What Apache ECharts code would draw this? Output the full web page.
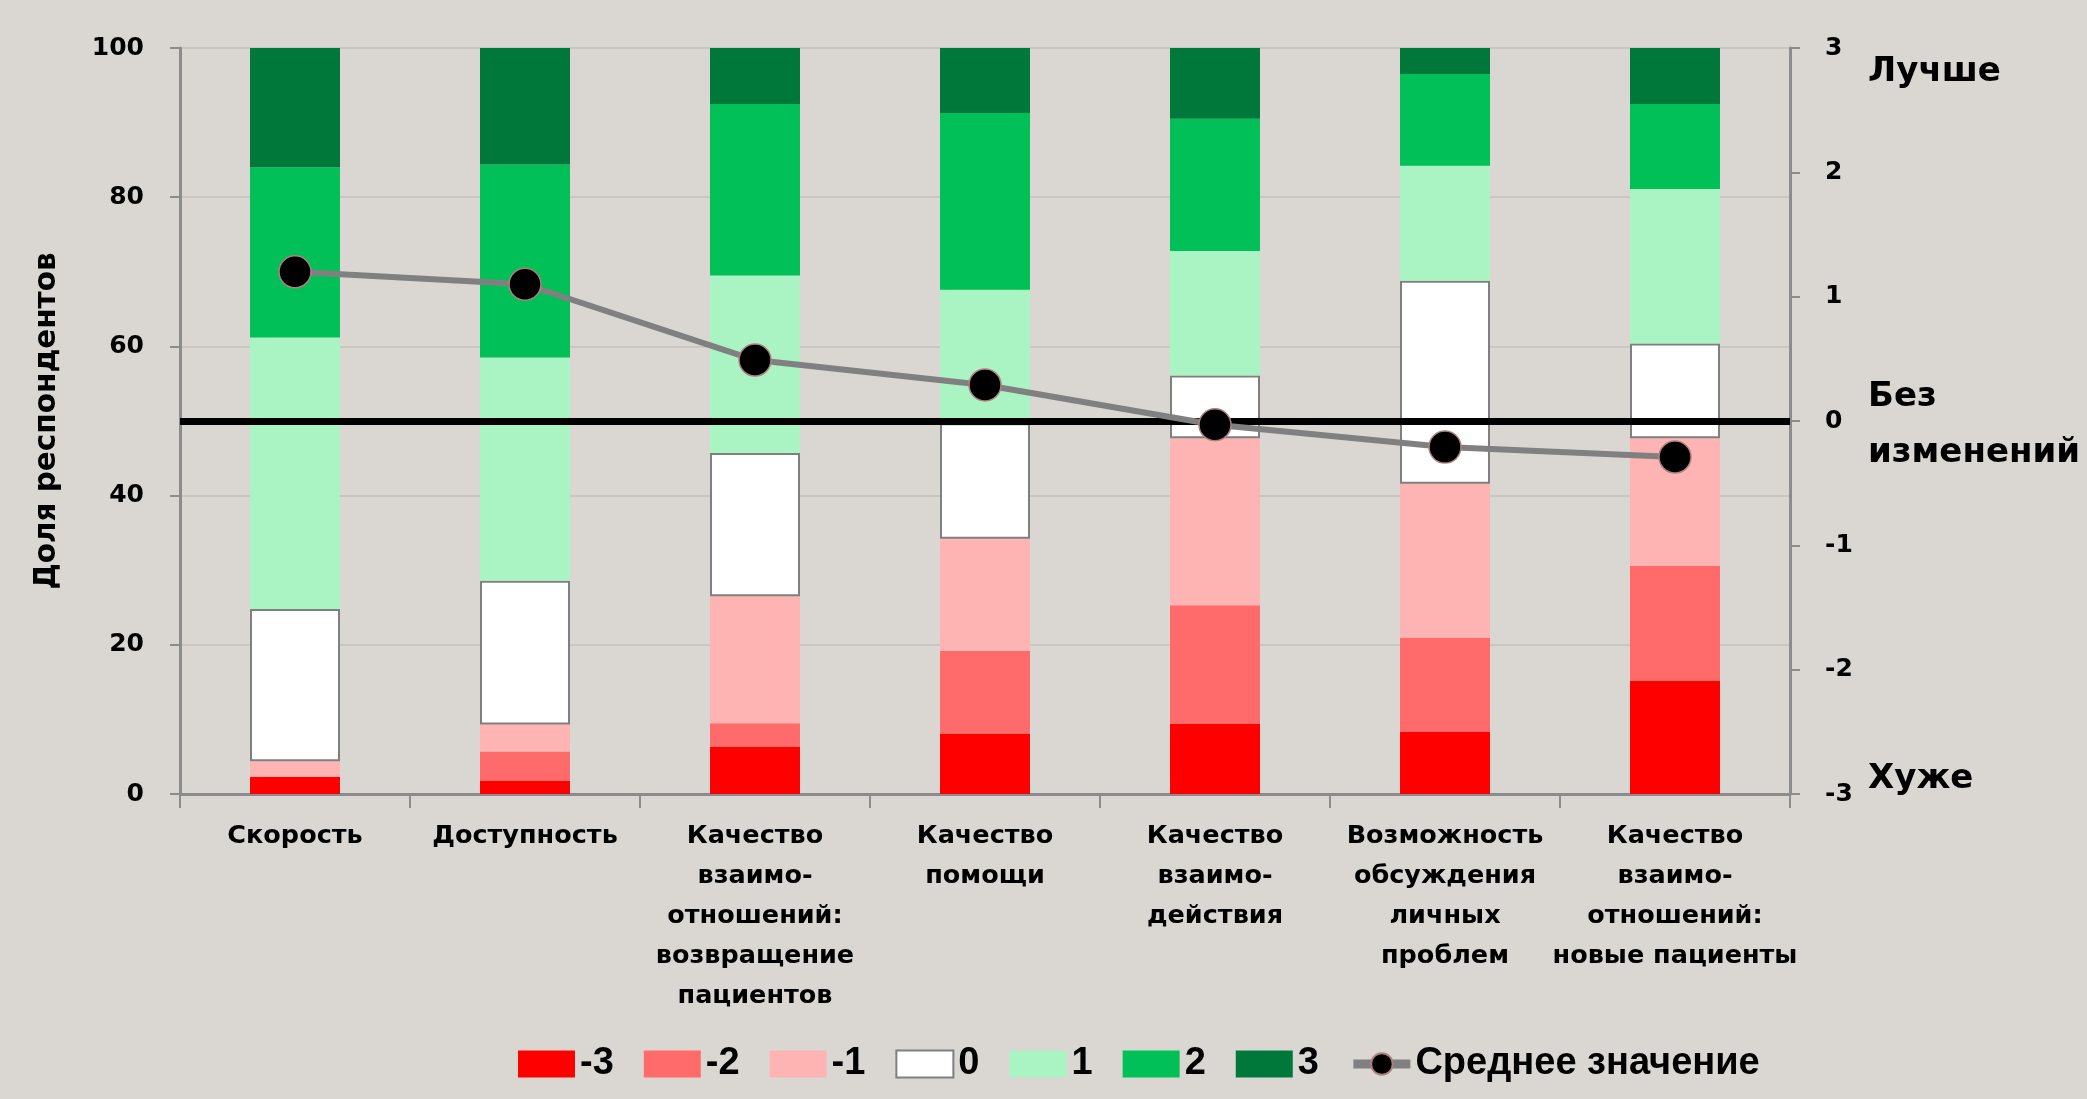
<!DOCTYPE html>
<html>
<head>
<meta charset="utf-8">
<script src="https://cdn.jsdelivr.net/npm/echarts@6/dist/echarts.min.js"></script>
<style>
html,body{margin:0;padding:0;background:#dad7d2;}
#c{width:2087px;height:1099px;}
</style>
</head>
<body>
<div id="c"></div>
<script>
const categories = [
  "Скорость",
  "Доступность",
  "Качество\nвзаимо-\nотношений:\nвозвращение\nпациентов",
  "Качество\nпомощи",
  "Качество\nвзаимо-\nдействия",
  "Возможность\nобсуждения\nличных\nпроблем",
  "Качество\nвзаимо-\nотношений:\nновые пациенты"
];
const neg3 = [2.3, 1.8, 6.3, 8.1, 9.4, 8.3, 15.2];
const neg2 = [0, 3.9, 3.2, 11.1, 15.9, 12.6, 15.4];
const neg1 = [2.1, 3.6, 17.0, 15.0, 22.4, 20.7, 17.1];
const zero = [20.4, 19.3, 19.2, 15.5, 8.4, 27.2, 12.7];
const pos1 = [36.4, 29.9, 23.8, 17.9, 16.7, 15.4, 20.7];
const pos2 = [22.8, 25.9, 23.0, 23.7, 17.7, 12.3, 11.4];
const pos3 = [16.0, 15.6, 7.5, 8.7, 9.5, 3.5, 7.5];
const meanValues = [1.2, 1.1, 0.49, 0.29, -0.03, -0.21, -0.29];
const seriesNames = ["-3", "-2", "-1", "0", "1", "2", "3"];
const meanName = "Среднее значение";
const leftTicks = {min: 0, max: 100, interval: 20};
const rightTicks = {min: -3, max: 3, interval: 1};
const neutralLevel = 50;
const sideLabels = ["Лучше", "Без\nизменений", "Хуже"];

const segData = [neg3, neg2, neg1, zero, pos1, pos2, pos3];
const segColors = ["#ff0000", "#ff6b6b", "#ffb4b4", "#ffffff", "#aaf4c4", "#00c057", "#00783a"];
const axisFont = "DejaVu Sans";

const chart = echarts.init(document.getElementById('c'));
const series = segData.map((d, i) => {
  const s = {
    name: seriesNames[i], type: 'bar', stack: 'total', barWidth: 90,
    data: d,
    itemStyle: {color: segColors[i], borderColor: i === 3 ? '#7f7f7f' : segColors[i], borderWidth: i === 3 ? 2 : 0},
    emphasis: {disabled: true}
  };
  if (i === 0) {
    s.markLine = {
      silent: true, symbol: ['none', 'none'], label: {show: false},
      lineStyle: {color: '#000', width: 7, type: 'solid'},
      data: [{yAxis: neutralLevel}]
    };
  }
  return s;
});
series.push({
  name: meanName, type: 'line', yAxisIndex: 1, z: 10,
  data: meanValues,
  symbol: 'circle', symbolSize: 32,
  lineStyle: {color: '#808080', width: 6},
  itemStyle: {color: '#000', borderColor: '#b08080', borderWidth: 1.5},
  emphasis: {disabled: true}
});

chart.setOption({
  backgroundColor: '#dad7d2',
  animation: false,
  grid: {left: 180, right: 297, top: 48, bottom: 305},
  legend: {
    left: 513, top: 1040, itemWidth: 57, itemHeight: 27, itemGap: 30,
    textStyle: {fontFamily: 'Liberation Sans Narrow, Liberation Sans', fontWeight: 'bold', fontSize: 38, color: '#000'},
    data: seriesNames.map(n => ({name: n, icon: 'rect'})).concat([{
      name: meanName,
      lineStyle: {color: '#808080', width: 9}
    }])
  },
  xAxis: {
    type: 'category', data: categories,
    axisLine: {lineStyle: {color: '#8c8c8c', width: 3}},
    axisTick: {show: true, length: 14, lineStyle: {color: '#8c8c8c', width: 2}},
    axisLabel: {
      interval: 0, margin: 22, color: '#000', fontFamily: axisFont, fontWeight: 'bold',
      fontSize: 25.5, lineHeight: 40
    }
  },
  yAxis: [{
    type: 'value', min: leftTicks.min, max: leftTicks.max, interval: leftTicks.interval,
    name: 'Доля респондентов', nameLocation: 'middle', nameGap: 118, nameRotate: 90,
    nameTextStyle: {fontFamily: axisFont, fontWeight: 'bold', fontSize: 29.5, color: '#000'},
    axisLine: {show: true, lineStyle: {color: '#8c8c8c', width: 3}},
    axisTick: {show: true, length: 10, lineStyle: {color: '#8c8c8c', width: 2}},
    axisLabel: {margin: 36, color: '#000', fontFamily: axisFont, fontWeight: 'bold', fontSize: 25},
    splitLine: {show: true, lineStyle: {color: '#c3bfba', width: 1.5}}
  }, {
    type: 'value', min: rightTicks.min, max: rightTicks.max, interval: rightTicks.interval,
    position: 'right',
    axisLine: {show: true, lineStyle: {color: '#8c8c8c', width: 3}},
    axisTick: {show: true, length: 10, lineStyle: {color: '#8c8c8c', width: 2}},
    axisLabel: {margin: 35, color: '#000', fontFamily: axisFont, fontWeight: 'bold', fontSize: 25},
    splitLine: {show: false}
  }],
  graphic: [
    {type: 'text', left: 1868, top: 55, style: {text: sideLabels[0], font: 'bold 34px "DejaVu Sans"', fill: '#000'}},
    {type: 'text', left: 1868, top: 369, style: {text: sideLabels[1], font: 'bold 34px "DejaVu Sans"', lineHeight: 56, fill: '#000'}},
    {type: 'text', left: 1868, top: 762, style: {text: sideLabels[2], font: 'bold 34px "DejaVu Sans"', fill: '#000'}}
  ],
  series: series
});
</script>
</body>
</html>
